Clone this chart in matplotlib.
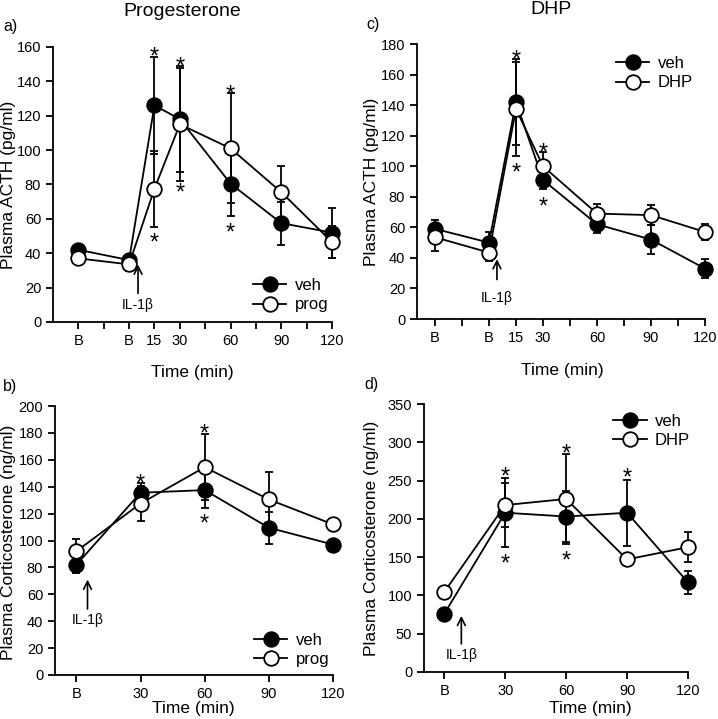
import matplotlib
matplotlib.use("Agg")
import matplotlib.pyplot as plt
from matplotlib.lines import Line2D

plt.rcParams['font.family'] = ['Liberation Sans', 'DejaVu Sans']
plt.rcParams['font.size'] = 11

# --- data ---
t_acth = [-30, 0, 15, 30, 60, 90, 120]
t_cort = [0, 30, 60, 90, 120]

a_veh = [42, 36, 126, 118, 80.5, 57.5, 52]
a_veh_err = [3, 3, 28, 31, 19, 12.5, 14.5]
a_prog = [37, 33.5, 77.5, 115, 101, 75.5, 46.5]
a_prog_err = [3.5, 4, 22, 33, 32, 15, 9.5]
a_stars = [(15, 158), (15, 50), (30, 152), (30, 79), (60, 136), (60, 55.5)]

c_veh = [59, 50, 142, 91, 62, 52, 33]
c_veh_err = [6, 7, 28, 5.6, 6, 9.5, 6]
c_dhp = [53.5, 43.5, 137.5, 100, 69, 68, 57]
c_dhp_err = [9, 5.5, 31, 9, 6, 6.5, 5]
c_stars = [(15, 174), (15, 100), (30, 113), (30, 78)]

b_veh = [82, 135.5, 137.5, 109.5, 97]
b_veh_err = [6, 7, 13.5, 12, 2]
b_prog = [92, 127.5, 154.5, 130.5, 112]
b_prog_err = [9, 13, 24.5, 20.5, 2]
b_stars = [(30, 147), (60, 184), (60, 117.5)]

d_veh = [76, 208, 203, 208, 117]
d_veh_err = [4, 45, 33, 43, 15]
d_dhp = [104.5, 218, 226, 147, 163]
d_dhp_err = [4, 29, 59, 4, 19.5]
d_stars = [(30, 264), (30, 150), (60, 294), (60, 153), (90, 262)]

acth_ticks = [-30, -15, 0, 15, 30, 45, 60, 75, 90, 105, 120]
acth_labels = ['B', '', 'B', '15', '30', '', '60', '', '90', '', '120']
cort_ticks = [0, 30, 60, 90, 120]
cort_labels = ['B', '30', '60', '90', '120']

LW = 1.3
MS = 10.5


def panel(ax, t, veh, veh_err, drug, drug_err, stars):
    for y, e in [(veh, veh_err), (drug, drug_err)]:
        ax.errorbar(t, y, yerr=e, fmt='none', ecolor='black', elinewidth=LW,
                    capsize=3, capthick=LW, zorder=2, clip_on=False)
    ax.plot(t, veh, '-o', color='black', mfc='black', mec='black', ms=MS,
            mew=LW, lw=LW, zorder=3, clip_on=False)
    ax.plot(t, drug, '-o', color='black', mfc='white', mec='black', ms=MS,
            mew=LW, lw=LW, zorder=4, clip_on=False)
    for x, y in stars:
        ax.annotate('*', (x, y), xytext=(0, -9.5), textcoords='offset points',
                    ha='center', va='baseline', fontsize=17)
    for s in ['top', 'right']:
        ax.spines[s].set_visible(False)
    for s in ['left', 'bottom']:
        ax.spines[s].set_linewidth(LW)
    ax.tick_params(direction='out', length=5, width=LW, labelsize=10.5)
    handles = [Line2D([], [], color='black', marker='o', mfc='black', mec='black',
                      ms=MS, mew=LW, lw=LW),
               Line2D([], [], color='black', marker='o', mfc='white', mec='black',
                      ms=MS, mew=LW, lw=LW)]
    return handles


def legend(ax, h, names, loc, anchor):
    ax.legend(h, names, loc=loc, bbox_to_anchor=anchor, frameon=False,
              handlelength=2.0, handletextpad=0.5, fontsize=12,
              labelspacing=0.25)


def il1b(ax, x, y_head, y_tail, y_text):
    ax.annotate('', xy=(x, y_head), xytext=(x, y_tail),
                arrowprops=dict(arrowstyle='->', lw=1.2, color='black',
                                mutation_scale=14))
    ax.text(x, y_text, 'IL-1β', ha='center', va='center', fontsize=10)


fig = plt.figure(figsize=(7.18, 7.19), dpi=100)

ax_a = fig.add_axes([0.0738, 0.5522, 0.3886, 0.3825])
ax_c = fig.add_axes([0.5808, 0.5563, 0.4011, 0.3825])
ax_b = fig.add_axes([0.0766, 0.0612, 0.3872, 0.3741])
ax_d = fig.add_axes([0.5905, 0.0654, 0.3677, 0.3727])

h = panel(ax_a, t_acth, a_veh, a_veh_err, a_prog, a_prog_err, a_stars)
ax_a.set_xlim(-45, 120)
ax_a.set_ylim(0, 160)
ax_a.set_yticks(range(0, 161, 20))
ax_a.set_xticks(acth_ticks)
ax_a.set_xticklabels(acth_labels)
legend(ax_a, h, ['veh', 'prog'], 'lower right', (1.04, -0.02))
il1b(ax_a, 5.3, 35, 15, 10)

h = panel(ax_c, t_acth, c_veh, c_veh_err, c_dhp, c_dhp_err, c_stars)
ax_c.set_xlim(-40, 120)
ax_c.set_ylim(0, 180)
ax_c.set_yticks(range(0, 181, 20))
ax_c.set_xticks(acth_ticks)
ax_c.set_xticklabels(acth_labels)
legend(ax_c, h, ['veh', 'DHP'], 'upper right', (1.01, 1.01))
il1b(ax_c, 4.4, 41, 24, 13.5)

h = panel(ax_b, t_cort, b_veh, b_veh_err, b_prog, b_prog_err, b_stars)
ax_b.set_xlim(-10, 120)
ax_b.set_ylim(0, 200)
ax_b.set_yticks(range(0, 201, 20))
ax_b.set_xticks(cort_ticks)
ax_b.set_xticklabels(cort_labels)
legend(ax_b, h, ['veh', 'prog'], 'lower right', (1.04, -0.025))
il1b(ax_b, 5.2, 73, 47, 41)

h = panel(ax_d, t_cort, d_veh, d_veh_err, d_dhp, d_dhp_err, d_stars)
ax_d.set_xlim(-10, 120)
ax_d.set_ylim(0, 350)
ax_d.set_yticks(range(0, 351, 50))
ax_d.set_xticks(cort_ticks)
ax_d.set_xticklabels(cort_labels)
legend(ax_d, h, ['veh', 'DHP'], 'upper right', (1.065, 1.02))
il1b(ax_d, 8.4, 77, 33, 22)

# axis labels, titles and panel letters in figure pixels
W, H = 718, 719


def ftext(x, y, s, **kw):
    fig.text(x / W, 1 - y / H, s, ha='center', va='center', **kw)


ftext(182, 11, 'Progesterone', fontsize=14)
ftext(551, 10, 'DHP', fontsize=14)
ftext(10, 27, 'a)', fontsize=11.5)
ftext(373, 25, 'c)', fontsize=11.5)
ftext(10, 387, 'b)', fontsize=11.5)
ftext(372, 385, 'd)', fontsize=11.5)
ftext(192, 372, 'Time (min)', fontsize=12.5)
ftext(562, 370, 'Time (min)', fontsize=12.5)
ftext(193, 708, 'Time (min)', fontsize=12.5)
ftext(590, 708, 'Time (min)', fontsize=12.5)
ftext(9, 185, 'Plasma ACTH (pg/ml)', fontsize=12.5, rotation=90)
ftext(372, 182, 'Plasma ACTH (pg/ml)', fontsize=12.5, rotation=90)
ftext(9, 542, 'Plasma Corticosterone (ng/ml)', fontsize=12.5, rotation=90)
ftext(372, 538, 'Plasma Corticosterone (ng/ml)', fontsize=12.5, rotation=90)

fig.savefig('out.png', dpi=100)
